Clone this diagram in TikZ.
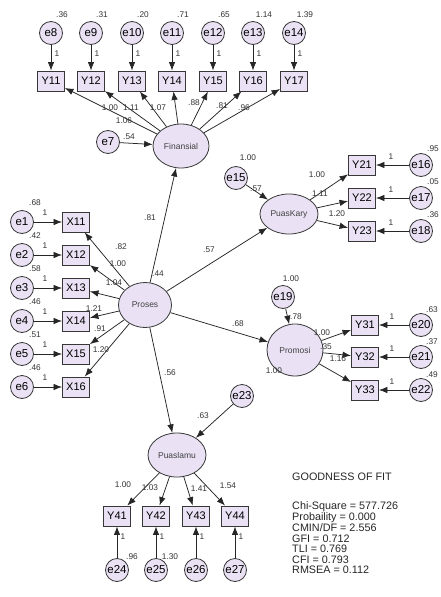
\documentclass[tikz,border=0pt]{standalone}
\usepackage{fontspec}
\setmainfont{Liberation Sans}
\usetikzlibrary{shapes.geometric,arrows.meta}
\definecolor{fillc}{RGB}{234,226,244}
\definecolor{linec}{RGB}{55,55,55}
\begin{document}
\begin{tikzpicture}[x=1pt,y=-1pt,
 obs/.style={rectangle,draw=linec,fill=fillc,line width=0.9pt,minimum width=27pt,minimum height=20pt,inner sep=0pt,font=\fontsize{11}{12}\selectfont},
 err/.style={circle,draw=linec,fill=fillc,line width=0.8pt,minimum size=23pt,inner sep=0pt,font=\fontsize{11.5}{12}\selectfont},
 lat/.style={ellipse,draw=linec,fill=fillc,line width=0.8pt,inner sep=0pt,font=\fontsize{8.5}{9}\selectfont,text=black!75},
 lbl/.style={inner sep=0pt,font=\fontsize{8.3}{9}\selectfont,text=black!80},
 arr/.style={-{Latex[length=8.5pt,width=6.5pt]},line width=0.75pt,draw=black!85},
 gof/.style={inner sep=0pt,anchor=west,font=\fontsize{10.8}{11}\selectfont,text=black!85},
]
\fill[white] (0,0) rectangle (441,597);
\useasboundingbox (0,0) rectangle (441,597);

% ---------- top block (Finansial) ----------
\foreach \e/\y/\x/\v in {8/11/51/.36,9/12/91/.31,10/13/132/.20,11/14/172/.71,12/15/213/.65,13/16/253/1.14,14/17/294/1.39}{
  \node[err] (e\e) at (\x,33) {e\e};
  \node[obs] (Y\y) at (\x,81) {Y\y};
  \node[lbl] (ve\e) at (\x+11,15) {\v};
  \draw[arr] (e\e) -- (Y\y);
  \node[lbl] (one\e) at (\x+6,54) {1};
}
\node[lat,minimum width=56pt,minimum height=44pt] (fin) at (181,146) {Finansial};
\node[err] (e7) at (108,142) {e7};
\draw[arr] (e7) -- (fin);
\node[lbl] (l54) at (129,137) {.54};
\foreach \y in {11,...,17}{\draw[arr] (fin) -- (Y\y);}
\node[lbl] (f1) at (124,121) {1.06};
\node[lbl] (f2) at (110,108) {1.00};
\node[lbl] (f3) at (131,108) {1.11};
\node[lbl] (f4) at (158,108) {1.07};
\node[lbl] (f5) at (194,103) {.88};
\node[lbl] (f6) at (222,106) {.81};
\node[lbl] (f7) at (244,108) {.96};

% ---------- Proses ----------
\node[lat,minimum width=53pt,minimum height=45pt] (pro) at (145,305) {Proses};
\node[lbl] (v44) at (158,274) {.44};
\draw[arr] (pro) -- (fin);
\node[lbl] (l81) at (150,218) {.81};

\foreach \i/\yy/\v in {1/222/.68,2/255/.42,3/288/.58,4/321/.46,5/354/.51,6/387/.46}{
  \node[err] (e\i) at (22,\yy) {e\i};
  \node[obs] (X1\i) at (76,\yy) {X1\i};
  \draw[arr] (e\i) -- (X1\i);
  \node[lbl] (onel\i) at (45,\yy-9) {1};
  \node[lbl] (vl\i) at (35,\yy-19) {\v};
  \draw[arr] (pro) -- (X1\i);
}
\node[lbl] (x1) at (121,247) {.82};
\node[lbl] (x2) at (118,264) {1.00};
\node[lbl] (x3) at (114,283) {1.04};
\node[lbl] (x4) at (94,309) {1.21};
\node[lbl] (x5) at (100,329) {.91};
\node[lbl] (x6) at (101,350) {1.20};

% ---------- PuasKary ----------
\node[lat,minimum width=58pt,minimum height=40pt] (pk) at (289,214) {PuasKary};
\node[err] (e15) at (236,178) {e15};
\node[lbl] (v15) at (248,158) {1.00};
\draw[arr] (e15) -- (pk);
\node[lbl] (l57a) at (256,189) {.57};
\draw[arr] (pro) -- (pk);
\node[lbl] (l57b) at (209,250) {.57};
\foreach \i/\e/\yy/\v in {1/16/165/.95,2/17/198/.05,3/18/231/.36}{
  \node[obs] (Y2\i) at (362,\yy) {Y2\i};
  \node[err] (e\e) at (421,\yy) {e\e};
  \draw[arr] (e\e) -- (Y2\i);
  \node[lbl] (oner\e) at (391,\yy-8) {1};
  \node[lbl] (vr\e) at (433,\yy-16) {\v};
  \draw[arr] (pk) -- (Y2\i);
}
\node[lbl] (k1) at (317,175) {1.00};
\node[lbl] (k2) at (320,194) {1.11};
\node[lbl] (k3) at (337,214) {1.20};

% ---------- Promosi ----------
\node[lat,minimum width=56pt,minimum height=52pt] (pm) at (295,350) {Promosi};
\node[err] (e19) at (283,297) {e19};
\node[lbl] (v19) at (291,279) {1.00};
\draw[arr] (e19) -- (pm);
\node[lbl] (l78) at (296,317) {.78};
\draw[arr] (pro) -- (pm);
\node[lbl] (l68) at (238,324) {.68};
\node[lbl] (l100p) at (274,371) {1.00};
\foreach \i/\e/\yy/\v in {1/20/325/.63,2/21/357/.37,3/22/390/.49}{
  \node[obs] (Y3\i) at (365,\yy) {Y3\i};
  \node[err] (e\e) at (421,\yy) {e\e};
  \draw[arr] (e\e) -- (Y3\i);
  \node[lbl] (onep\e) at (392,\yy-8) {1};
  \node[lbl] (vp\e) at (432,\yy-15) {\v};
  \draw[arr] (pm) -- (Y3\i);
}
\node[lbl] (p1) at (322,333) {1.00};
\node[lbl] (p2) at (326,347) {.35};
\node[lbl] (p3) at (338,359) {1.16};

% ---------- Puaslamu ----------
\node[lat,minimum width=58pt,minimum height=44pt] (pl) at (177,455) {Puaslamu};
\draw[arr] (pro) -- (pl);
\node[lbl] (l56) at (170,373) {.56};
\node[err] (e23) at (242,396) {e23};
\draw[arr] (e23) -- (pl);
\node[lbl] (l63) at (203,416) {.63};
\foreach \i/\e/\x in {1/24/117,2/25/156,3/26/196,4/27/235}{
  \node[obs] (Y4\i) at (\x,516) {Y4\i};
  \node[err] (e\e) at (\x,570) {e\e};
  \draw[arr] (e\e) -- (Y4\i);
  \node[lbl] (oneb\e) at (\x+6,537) {1};
  \draw[arr] (pl) -- (Y4\i);
}
\node[lbl] (b1) at (123,485) {1.00};
\node[lbl] (b2) at (150,488) {1.03};
\node[lbl] (b3) at (199,489) {1.41};
\node[lbl] (b4) at (228,486) {1.54};
\node[lbl] (v24) at (132,557) {.96};
\node[lbl] (v25) at (170,557) {1.30};

% ---------- goodness of fit ----------
\node[gof] (g0) at (292,477) {GOODNESS OF FIT};
\node[gof] (g1) at (292,507) {Chi-Square = 577.726};
\node[gof] (g2) at (292,517.5) {Probaility = 0.000};
\node[gof] (g3) at (292,528) {CMIN/DF = 2.556};
\node[gof] (g4) at (292,538.5) {GFI = 0.712};
\node[gof] (g5) at (292,549) {TLI = 0.769};
\node[gof] (g6) at (292,559.5) {CFI = 0.793};
\node[gof] (g7) at (292,570) {RMSEA = 0.112};
\end{tikzpicture}
\end{document}
